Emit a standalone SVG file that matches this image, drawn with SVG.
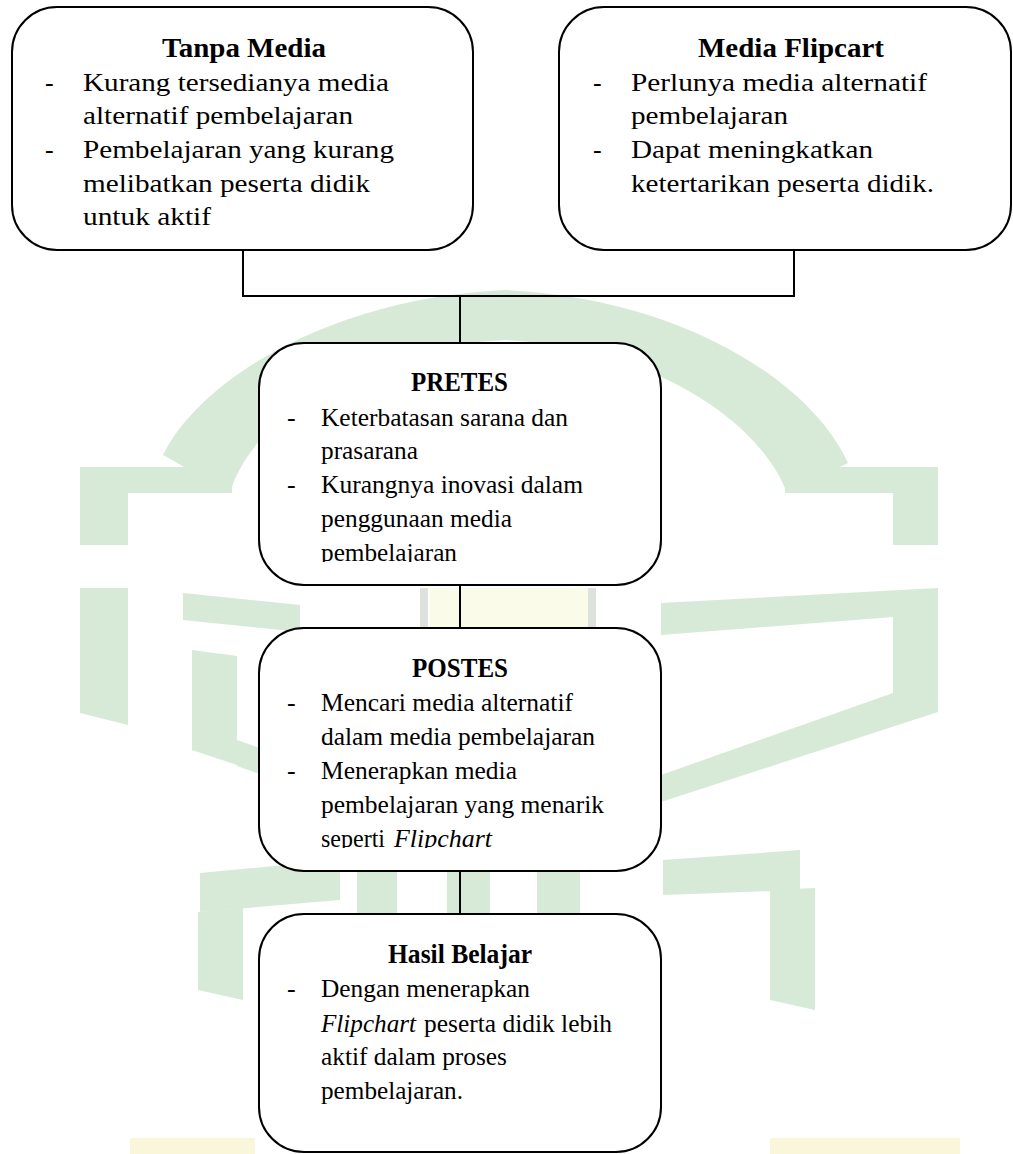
<svg xmlns="http://www.w3.org/2000/svg" width="1013" height="1154" viewBox="0 0 1013 1154">
  <style>
    .box { fill: #ffffff; stroke: #000000; stroke-width: 2; }
    .title { font-family: "Liberation Serif", "Times New Roman", serif; font-weight: bold; font-size: 28px; fill: #000; }
    .title2 { font-family: "Liberation Serif", "Times New Roman", serif; font-weight: bold; font-size: 27px; fill: #000; }
    .body { font-family: "Liberation Serif", "Times New Roman", serif; font-size: 26px; fill: #000; }
    .it { font-style: italic; }
    .conn { stroke: #000; stroke-width: 2; fill: none; }
    .wm { fill: #d3e8d3; }
  </style>
  <defs>
    <clipPath id="clipPre"><rect x="259" y="343" width="402" height="219"/></clipPath>
    <clipPath id="clipPost"><rect x="259" y="628" width="402" height="220"/></clipPath>
  </defs>
  <rect width="1013" height="1154" fill="#ffffff"/>

  <!-- background watermark -->
  <g id="watermark" opacity="0.9">
    <path class="wm" d="M163,455 C200,380 330,298 505,290 C680,298 810,380 848,463 L787,493 C760,420 650,347 505,340 C360,347 250,420 230,493 Z"/>
    <polygon class="wm" points="80,467 232,467 232,493 128,493 128,545 80,545"/>
    <polygon class="wm" points="785,467 938,467 938,545 893,545 893,493 785,493"/>
    <polygon class="wm" points="80,588 128,588 128,725 80,713"/>
    <polygon class="wm" points="661,603 938,588 938,712 661,802 661,775 893,693 893,617 661,635"/>
    <polygon class="wm" points="183,593 300,605 300,632 183,620"/>
    <polygon class="wm" points="192,650 237,656 237,765 192,750"/>
    <polygon class="wm" points="237,740 350,780 350,806 237,766"/>
    <polygon class="wm" points="200,873 340,860 340,900 200,912"/>
    <polygon class="wm" points="663,860 800,850 800,890 663,895"/>
    <polygon class="wm" points="198,912 243,908 243,1000 198,990"/>
    <polygon class="wm" points="770,890 815,888 815,1010 770,1000"/>
    <rect class="wm" x="357" y="860" width="40" height="60"/>
    <rect class="wm" x="447" y="860" width="43" height="60"/>
    <rect class="wm" x="537" y="860" width="43" height="60"/>
    <rect x="430" y="588" width="160" height="45" fill="#fbfbe8"/>
    <rect x="420" y="588" width="8" height="45" fill="#dadfda"/>
    <rect x="588" y="588" width="8" height="45" fill="#dadfda"/>
    <rect x="130" y="1138" width="125" height="16" fill="#f8f5d6"/>
    <rect x="770" y="1138" width="190" height="16" fill="#f8f5d6"/>
  </g>

  <!-- connectors -->
  <g id="connectors">
    <line class="conn" x1="243" y1="250" x2="243" y2="296"/>
    <line class="conn" x1="794" y1="250" x2="794" y2="296"/>
    <line class="conn" x1="242" y1="296" x2="795" y2="296" stroke-width="2.5"/>
    <line class="conn" x1="460" y1="297" x2="460" y2="343" stroke-width="1.5"/>
    <line class="conn" x1="460" y1="585" x2="460" y2="628" stroke-width="1.5"/>
    <line class="conn" x1="460" y1="871" x2="460" y2="914" stroke-width="1.5"/>
  </g>

  <!-- Tanpa Media -->
  <g id="node-tanpa-media">
    <rect class="box" x="12" y="7" width="461" height="243" rx="45" ry="45"/>
    <text class="title" x="162" y="57" textLength="164" lengthAdjust="spacingAndGlyphs">Tanpa Media</text>
    <text class="body" x="45" y="91">-</text>
    <text class="body" x="83" y="91" textLength="306" lengthAdjust="spacingAndGlyphs">Kurang tersedianya media</text>
    <text class="body" x="83" y="124" textLength="270" lengthAdjust="spacingAndGlyphs">alternatif pembelajaran</text>
    <text class="body" x="45" y="158">-</text>
    <text class="body" x="83" y="158" textLength="311" lengthAdjust="spacingAndGlyphs">Pembelajaran yang kurang</text>
    <text class="body" x="83" y="192" textLength="287" lengthAdjust="spacingAndGlyphs">melibatkan peserta didik</text>
    <text class="body" x="83" y="225" textLength="128" lengthAdjust="spacingAndGlyphs">untuk aktif</text>
  </g>

  <!-- Media Flipcart -->
  <g id="node-media-flipcart">
    <rect class="box" x="559" y="7" width="452" height="243" rx="45" ry="45"/>
    <text class="title" x="698" y="57" textLength="186" lengthAdjust="spacingAndGlyphs">Media Flipcart</text>
    <text class="body" x="593" y="91">-</text>
    <text class="body" x="631" y="91" textLength="296" lengthAdjust="spacingAndGlyphs">Perlunya media alternatif</text>
    <text class="body" x="631" y="124" textLength="157" lengthAdjust="spacingAndGlyphs">pembelajaran</text>
    <text class="body" x="593" y="158">-</text>
    <text class="body" x="631" y="158" textLength="242" lengthAdjust="spacingAndGlyphs">Dapat meningkatkan</text>
    <text class="body" x="631" y="192" textLength="303" lengthAdjust="spacingAndGlyphs">ketertarikan peserta didik.</text>
  </g>

  <!-- PRETES -->
  <g id="node-pretes">
    <rect class="box" x="259" y="343" width="402" height="242" rx="45" ry="45"/>
    <text class="title2" x="411" y="391" textLength="97" lengthAdjust="spacingAndGlyphs">PRETES</text>
    <text class="body" x="287" y="426">-</text>
    <text class="body" x="321" y="426" textLength="247" lengthAdjust="spacingAndGlyphs">Keterbatasan sarana dan</text>
    <text class="body" x="321" y="459" textLength="97" lengthAdjust="spacingAndGlyphs">prasarana</text>
    <text class="body" x="287" y="493">-</text>
    <text class="body" x="321" y="493" textLength="262" lengthAdjust="spacingAndGlyphs">Kurangnya inovasi dalam</text>
    <text class="body" x="321" y="527" textLength="191" lengthAdjust="spacingAndGlyphs">penggunaan media</text>
    <g clip-path="url(#clipPre)">
      <text class="body" x="321" y="561" textLength="136" lengthAdjust="spacingAndGlyphs">pembelajaran</text>
    </g>
  </g>

  <!-- POSTES -->
  <g id="node-postes">
    <rect class="box" x="259" y="628" width="402" height="243" rx="45" ry="45"/>
    <text class="title2" x="412" y="677" textLength="96" lengthAdjust="spacingAndGlyphs">POSTES</text>
    <text class="body" x="287" y="711">-</text>
    <text class="body" x="321" y="711" textLength="252" lengthAdjust="spacingAndGlyphs">Mencari media alternatif</text>
    <text class="body" x="321" y="745" textLength="274" lengthAdjust="spacingAndGlyphs">dalam media pembelajaran</text>
    <text class="body" x="287" y="779">-</text>
    <text class="body" x="321" y="779" textLength="196" lengthAdjust="spacingAndGlyphs">Menerapkan media</text>
    <text class="body" x="321" y="813" textLength="283" lengthAdjust="spacingAndGlyphs">pembelajaran yang menarik</text>
    <g clip-path="url(#clipPost)">
      <text class="body" x="321" y="847" textLength="64" lengthAdjust="spacingAndGlyphs">seperti</text>
      <text class="body it" x="394" y="847" textLength="98" lengthAdjust="spacingAndGlyphs">Flipchart</text>
    </g>
  </g>

  <!-- Hasil Belajar -->
  <g id="node-hasil-belajar">
    <rect class="box" x="259" y="914" width="402" height="238" rx="45" ry="45"/>
    <text class="title2" x="388" y="963" textLength="144" lengthAdjust="spacingAndGlyphs">Hasil Belajar</text>
    <text class="body" x="287" y="997">-</text>
    <text class="body" x="321" y="997" textLength="209" lengthAdjust="spacingAndGlyphs">Dengan menerapkan</text>
    <text class="body it" x="321" y="1032" textLength="95" lengthAdjust="spacingAndGlyphs">Flipchart</text>
    <text class="body" x="424" y="1032" textLength="188" lengthAdjust="spacingAndGlyphs">peserta didik lebih</text>
    <text class="body" x="321" y="1065" textLength="186" lengthAdjust="spacingAndGlyphs">aktif dalam proses</text>
    <text class="body" x="321" y="1099" textLength="142" lengthAdjust="spacingAndGlyphs">pembelajaran.</text>
  </g>
</svg>
